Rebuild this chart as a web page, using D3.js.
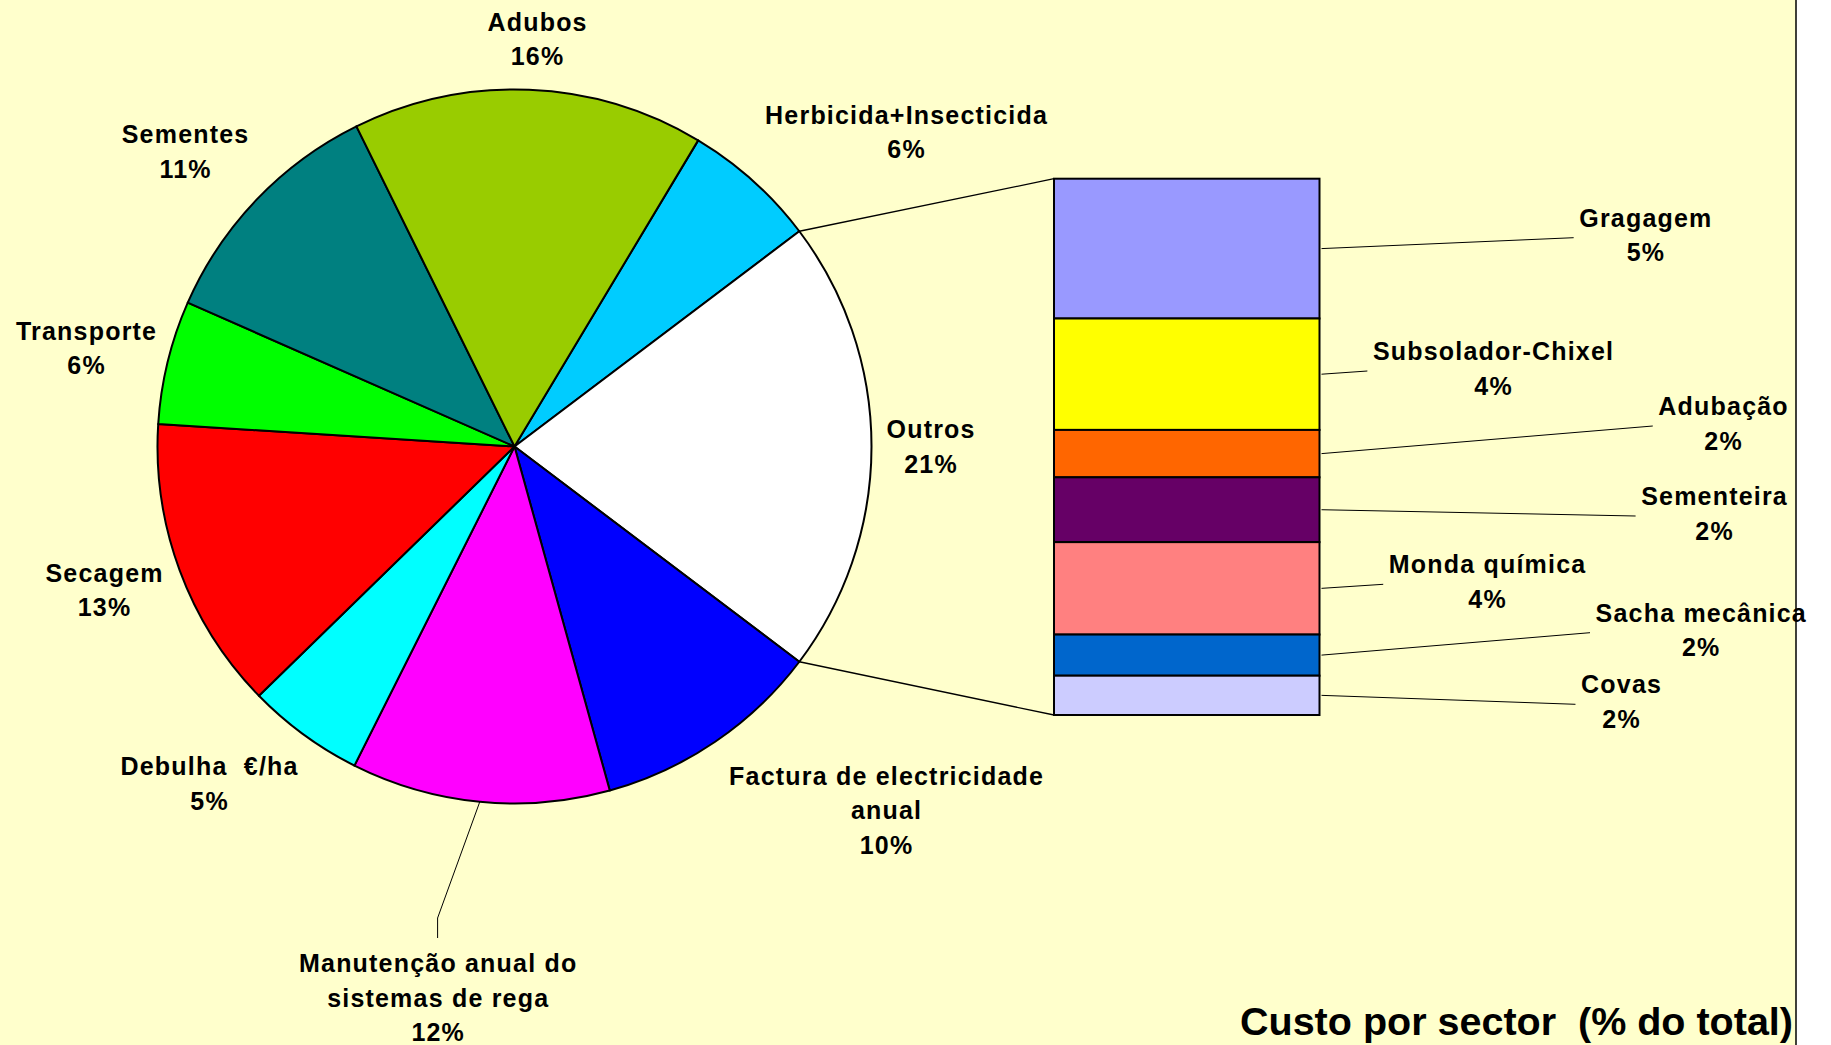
<!DOCTYPE html>
<html>
<head>
<meta charset="utf-8">
<script src="https://cdn.jsdelivr.net/npm/d3@7"></script>
<style>
  html, body { margin: 0; padding: 0; background: #ffffff; }
  svg { display: block; }
  text { font-family: "Liberation Sans", Arial, sans-serif; font-weight: bold; fill: #000; }
</style>
</head>
<body>
<svg id="chart" width="1831" height="1045"></svg>
<script>
// ---------------- DATA ----------------
const pieCategories = ["Herbicida+Insecticida", "Outros", "Factura de electricidade\nanual",
  "Manutenção anual do\nsistemas de rega", "Debulha  €/ha", "Secagem", "Transporte", "Sementes", "Adubos"];
const pieValues = [6.1, 20.6, 10.4, 11.7, 5.3, 13.3, 5.6, 11.1, 15.9];
const pieColors = ["#00CCFF", "#FFFFFF", "#0000FF", "#FF00FF", "#00FFFF", "#FF0000", "#00FF00", "#008080", "#99CC00"];

const barCategories = ["Gragagem", "Subsolador-Chixel", "Adubação", "Sementeira", "Monda química", "Sacha mecânica", "Covas"];
const barValues = [5.37, 4.28, 1.82, 2.49, 3.55, 1.58, 1.51];
const barColors = ["#9999FF", "#FFFF00", "#FF6600", "#660066", "#FF8080", "#0066CC", "#CCCCFF"];

const title = "Custo por sector  (% do total)";

// ---------------- LAYOUT ----------------
const W = 1831, H = 1045;
const plotRight = 1796;
const cx = 514.5, cy = 446.5, R = 357;
const barX0 = 1054, barX1 = 1319.5, barY0 = 178.7, barY1 = 715;
const lineH = 34.5;
// label anchor: centre x, first baseline y
const pieLabelPos = [[906, 123.5], [930.5, 438.3], [886, 784.5], [437.6, 972], [209, 775],
  [104, 581.5], [86, 339.5], [185, 143.3], [537, 30.7]];
const barLabelPos = [[1645.3, 226.7], [1493, 360], [1723, 415], [1714, 505],
  [1487, 573.3], [1700.7, 621.7], [1621, 693.3]];

const svg = d3.select("#chart");
svg.append("rect").attr("x", 0).attr("y", 0).attr("width", W).attr("height", H).attr("fill", "#ffffff");
svg.append("rect").attr("x", 0).attr("y", 0).attr("width", plotRight).attr("height", H).attr("fill", "#FFFFCC");
svg.append("line").attr("x1", plotRight).attr("x2", plotRight).attr("y1", 0).attr("y2", H)
  .attr("stroke", "#000").attr("stroke-width", 1.5);

const total = d3.sum(pieValues);
const outrosIdx = 1;
// Outros centred at 3 o'clock (bar-of-pie style)
const startAngle = Math.PI / 2 - (pieValues[outrosIdx] / 2 + pieValues[0]) / total * 2 * Math.PI;

const pie = d3.pie().sort(null).value(d => d).startAngle(startAngle).endAngle(startAngle + 2 * Math.PI);
const arcs = pie(pieValues);
const arc = d3.arc().innerRadius(0).outerRadius(R);

const gPie = svg.append("g").attr("transform", `translate(${cx},${cy})`);
gPie.selectAll("path").data(arcs).join("path")
  .attr("d", arc)
  .attr("fill", (d, i) => pieColors[i])
  .attr("stroke", "#000").attr("stroke-width", 2).attr("stroke-linejoin", "round");

const edge = a => [cx + R * Math.sin(a), cy - R * Math.cos(a)];

// bar of pie
const yBar = d3.scaleLinear().domain([0, d3.sum(barValues)]).range([barY0, barY1]);
const cum = d3.cumsum(barValues);
const segs = barValues.map((v, i) => ({ v, i, y0: i === 0 ? 0 : cum[i - 1], y1: cum[i] }));

// connector lines
const oa = arcs[outrosIdx];
const pTop = edge(oa.startAngle), pBot = edge(oa.endAngle);
svg.append("line").attr("x1", pTop[0]).attr("y1", pTop[1]).attr("x2", barX0).attr("y2", yBar(0))
  .attr("stroke", "#000").attr("stroke-width", 1.3);
svg.append("line").attr("x1", pBot[0]).attr("y1", pBot[1]).attr("x2", barX0).attr("y2", yBar(d3.sum(barValues)))
  .attr("stroke", "#000").attr("stroke-width", 1.3);

svg.append("g").selectAll("rect").data(segs).join("rect")
  .attr("x", barX0).attr("width", barX1 - barX0)
  .attr("y", d => yBar(d.y0)).attr("height", d => yBar(d.y1) - yBar(d.y0))
  .attr("fill", d => barColors[d.i])
  .attr("stroke", "#000").attr("stroke-width", 2);

// ---------------- LABELS ----------------
function drawLabel(lines, x, y, g) {
  const t = g.append("text").attr("text-anchor", "middle")
    .attr("font-size", 25).attr("letter-spacing", "1.2px")
    .style("white-space", "pre");
  lines.forEach((ln, k) => {
    t.append("tspan").attr("x", x + 0.6).attr("y", y + k * lineH).text(ln);
  });
  return t;
}
const gLab = svg.append("g");
const fmt = v => Math.round(v / total * 100) + "%";

arcs.forEach((a, i) => {
  const lines = pieCategories[i].split("\n").concat([fmt(pieValues[i])]);
  const [x, y] = pieLabelPos[i];
  drawLabel(lines, x, y, gLab);
});

// leader line for Manutenção slice
{
  const i = 3, a = arcs[i];
  const mid = (a.startAngle + a.endAngle) / 2;
  const p = edge(mid);
  const [x, y] = pieLabelPos[i];
  svg.append("polyline")
    .attr("points", [p, [x, y - 54], [x, y - 34]].map(q => q.join(",")).join(" "))
    .attr("fill", "none").attr("stroke", "#000").attr("stroke-width", 1);
}

segs.forEach(d => {
  const [x, y] = barLabelPos[d.i];
  const t = drawLabel([barCategories[d.i], fmt(d.v)], x, y, gLab);
  const firstW = t.select("tspan").node().getComputedTextLength();
  const left = x - firstW / 2;
  const ym = yBar((d.y0 + d.y1) / 2);
  svg.append("line").attr("x1", barX1 + 2).attr("y1", ym).attr("x2", left - 5).attr("y2", y + 11)
    .attr("stroke", "#000").attr("stroke-width", 1);
});

svg.append("text").attr("x", 1793).attr("y", 1035).attr("text-anchor", "end")
  .attr("font-size", 39.5).style("white-space", "pre").text(title);
</script>
</body>
</html>
